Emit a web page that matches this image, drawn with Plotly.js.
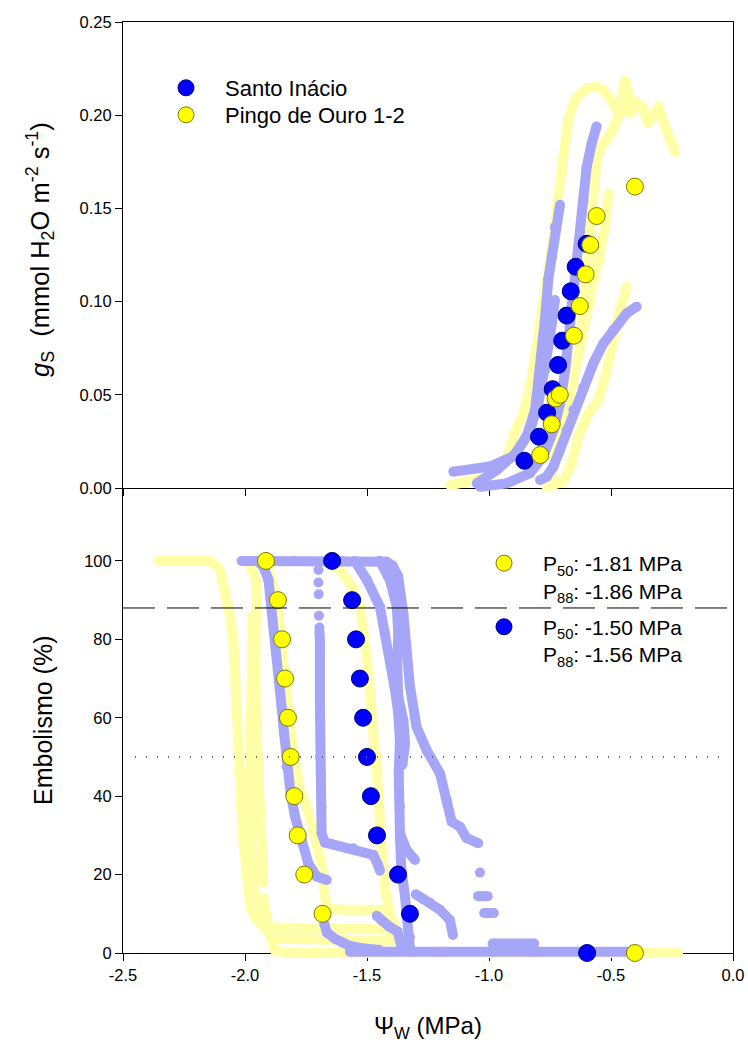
<!DOCTYPE html>
<html>
<head>
<meta charset="utf-8">
<script src="https://cdn.plot.ly/plotly-3.0.1.min.js"></script>
<style>html,body{margin:0;padding:0;background:#fff;}#chart{width:748px;height:1046px;}</style>
</head>
<body>
<div id="chart"></div>
<script>
// ---------------- DATA ----------------
// Axis ticks
const xTickVals = [-2.5, -2.0, -1.5, -1.0, -0.5, 0.0];
const xTickText = ['-2.5', '-2.0', '-1.5', '-1.0', '-0.5', '0.0'];
const gsTickVals = [0, 0.05, 0.10, 0.15, 0.20, 0.25];
const gsTickText = ['0.00', '0.05', '0.10', '0.15', '0.20', '0.25'];
const embTickVals = [0, 20, 40, 60, 80, 100];
const refLevels = [88, 50];   // P88 and P50 reference lines (%)

// Top panel: stomatal conductance (gs) mean points
const gsSanto_x = [-0.855, -0.795, -0.762, -0.739, -0.717, -0.700, -0.682, -0.665, -0.645, -0.600];
const gsSanto_y = [0.0146, 0.0275, 0.0404, 0.0530, 0.0660, 0.0790, 0.0925, 0.1055, 0.1187, 0.1310];
const gsPingo_x = [-0.790, -0.743, -0.727, -0.710, -0.652, -0.628, -0.604, -0.585, -0.559, -0.402];
const gsPingo_y = [0.0177, 0.0342, 0.0480, 0.0500, 0.0817, 0.0976, 0.1146, 0.1304, 0.1459, 0.1617];

// Top panel: individual gs curves (Pingo de Ouro, light yellow)
const gsY1_x = [-1.160, -1.064, -0.980, -0.930, -0.893, -0.859, -0.830, -0.805, -0.777, -0.753, -0.738, -0.722, -0.700, -0.675, -0.645, -0.600, -0.559, -0.532, -0.504, -0.470];
const gsY1_y = [0.0016, 0.0039, 0.0080, 0.0150, 0.0300, 0.0400, 0.0550, 0.0750, 0.0990, 0.1170, 0.1330, 0.1500, 0.1760, 0.1980, 0.2090, 0.2144, 0.2153, 0.2135, 0.2090, 0.2010];
const gsY2_x = [-0.764, -0.695, -0.661, -0.634, -0.593, -0.552, -0.518, -0.490, -0.463, -0.436];
const gsY2_y = [0.0007, 0.0034, 0.0132, 0.0275, 0.0400, 0.0472, 0.0630, 0.0810, 0.0955, 0.1080];
const gsY3_x = [-0.743, -0.730, -0.709, -0.684, -0.661, -0.641, -0.613, -0.586, -0.570, -0.545, -0.525, -0.511];
const gsY3_y = [0.0060, 0.0168, 0.0275, 0.0400, 0.0540, 0.0670, 0.0810, 0.0990, 0.1116, 0.1220, 0.1400, 0.1580];
const gsY4_x = [-0.620, -0.605, -0.590, -0.579, -0.559, -0.538, -0.511, -0.484, -0.463, -0.452, -0.443, -0.429, -0.422, -0.395, -0.374, -0.347, -0.306, -0.279, -0.258, -0.238];
const gsY4_y = [0.0850, 0.1100, 0.1290, 0.1540, 0.1760, 0.1840, 0.1880, 0.1950, 0.2010, 0.2117, 0.2185, 0.2117, 0.2010, 0.2067, 0.2046, 0.1956, 0.2046, 0.1940, 0.1870, 0.1804];

// Top panel: individual gs curves (Santo Inácio, light blue)
const gsL1_x = [-1.037, -0.928, -0.832, -0.777, -0.736, -0.709, -0.688, -0.675, -0.661, -0.648, -0.627, -0.613, -0.600, -0.579, -0.559];
const gsL1_y = [0.0007, 0.0025, 0.0080, 0.0170, 0.0310, 0.0450, 0.0630, 0.0810, 0.0990, 0.1160, 0.1380, 0.1540, 0.1720, 0.1850, 0.1940];
const gsL2_x = [-1.146, -0.996, -0.900, -0.846, -0.811, -0.791, -0.771, -0.757, -0.743, -0.730, -0.709];
const gsL2_y = [0.0088, 0.0115, 0.0170, 0.0275, 0.0420, 0.0630, 0.0900, 0.1120, 0.1240, 0.1400, 0.1520];
const gsL3_x = [-1.050, -0.968, -0.887, -0.832, -0.798, -0.771, -0.750, -0.730];
const gsL3_y = [0.0025, 0.0097, 0.0190, 0.0310, 0.0450, 0.0630, 0.0810, 0.1008];
const gsL4_x = [-0.791, -0.764, -0.736, -0.709, -0.682, -0.654, -0.613, -0.572, -0.531, -0.490, -0.436, -0.395];
const gsL4_y = [0.0043, 0.0060, 0.0115, 0.0204, 0.0310, 0.0420, 0.0540, 0.0670, 0.0776, 0.0850, 0.0937, 0.0973];

// Bottom panel: embolism mean points
const embPingo_x = [-1.914, -1.865, -1.848, -1.836, -1.824, -1.813, -1.798, -1.784, -1.757, -1.682, -0.402];
const embPingo_y = [100, 90, 80, 70, 60, 50, 40, 30, 20, 10, 0];
const embSanto_x = [-1.643, -1.561, -1.545, -1.529, -1.516, -1.500, -1.484, -1.459, -1.373, -1.324, -0.598];
const embSanto_y = [100, 90, 80, 70, 60, 50, 40, 30, 20, 10, 0];

// Bottom panel: individual embolism curves (Pingo de Ouro, light yellow)
const embY1_x = [-2.355, -2.143, -2.102, -2.082, -2.061, -2.048, -2.041, -2.034, -2.030, -2.027, -2.020, -2.007, -1.993, -1.979, -1.952, -1.884, -1.700, -1.500, -1.420, -1.385];
const embY1_y = [100, 100, 97.7, 92.6, 85.8, 79.8, 71.3, 62.8, 54.3, 45.8, 37.3, 28.8, 20.3, 11.8, 8.4, 6.5, 6.3, 6.2, 6.0, 5.0];
const embY2_x = [-1.975, -1.955, -1.955, -1.958, -1.958, -1.955, -1.950, -1.945, -1.935, -1.925];
const embY2_y = [98.5, 95, 88, 80, 70, 60, 50, 40, 30, 18];
const embY3_x = [-1.968, -1.972, -1.976, -1.980, -1.978, -1.972, -1.960, -1.935, -1.884, -1.800, -1.600, -1.400, -1.360];
const embY3_y = [86, 75, 60, 45, 30, 20, 12, 7.5, 3.8, 3.6, 3.6, 3.5, 3.0];
const embY4_x = [-1.925, -1.915, -1.895, -1.875, -1.800, -1.500, -1.000, -0.600, -0.225];
const embY4_y = [14, 9, 4, 0.5, 0, 0, 0, 0, 0];
const embY5_x = [-1.930, -1.900, -1.880, -1.860, -1.845, -1.830, -1.810, -1.790, -1.775, -1.747, -1.720, -1.690, -1.675, -1.665, -1.600, -1.500, -1.430, -1.410];
const embY5_y = [99, 97, 92, 85, 75, 65, 55, 47, 41.6, 37.3, 31, 24, 16, 11.5, 11, 11, 11, 10];
const embY6_x = [-1.624, -1.611, -1.557, -1.529, -1.501, -1.481, -1.460, -1.454, -1.447, -1.440, -1.426, -1.406, -1.385, -1.365, -1.337];
const embY6_y = [98.1, 97.7, 93, 88.4, 75.6, 62.8, 50.1, 41.6, 33.1, 24.6, 16.1, 10.1, 6.7, 3.3, 0.8];

// Bottom panel: individual embolism curves (Santo Inácio, light blue)
const embLtop_x = [-2.014, -1.800, -1.600, -1.450, -1.420, -1.395, -1.372, -1.351, -1.337, -1.324, -1.297, -1.256, -1.201, -1.174, -1.153, -1.119, -1.092, -1.044];
const embLtop_y = [100, 100, 100, 100, 99.8, 98.8, 96, 86.6, 76.4, 68, 57.7, 51.8, 45.8, 39, 33.5, 32.2, 29.3, 28];
const embLdots_x = [-1.037, null, -1.045, -1.005, null, -1.020, -0.980];
const embLdots_y = [20.5, null, 14.5, 14.5, null, 10.2, 10.2];
const embL1_x = [-1.950, -1.925, -1.904, -1.891, -1.877, -1.863, -1.850, -1.840, -1.829, -1.813, -1.795, -1.768, -1.741, -1.706, -1.665];
const embL1_y = [100, 98.6, 95.2, 88.4, 79.9, 71.4, 62.8, 56.1, 47.5, 40.7, 34.8, 28.8, 22.9, 19.5, 18.6];
const embL2a_x = [-1.699, -1.699, -1.698, null, -1.697, -1.695];
const embL2a_y = [97.7, 94.5, 91.5, null, 86, 83];
const embL2_x = [-1.695, -1.693, -1.693, -1.693, -1.690, -1.686, -1.686, -1.672, -1.638, -1.556, -1.474, -1.455, -1.447];
const embL2_y = [82, 80, 62.8, 50, 45.8, 37.3, 30.5, 28.2, 27.6, 26.7, 25.0, 22.5, 21];
const embL3_x = [-1.550, -1.501, -1.447, -1.426, -1.400, -1.385, -1.372, -1.365, -1.370, -1.365, -1.365, -1.338, -1.303];
const embL3_y = [100, 95.2, 88.3, 81.6, 74.8, 67.1, 61.1, 54.3, 45.8, 37.3, 30.5, 26.3, 23.7];
const embL4_x = [-1.447, -1.406, -1.378, -1.372, -1.376, -1.372, -1.351, -1.344, -1.355];
const embL4_y = [100, 95.1, 88.4, 81.6, 73, 65.4, 59.4, 53.5, 48];
const embL5_x = [-1.365, -1.360, -1.344, -1.331, -1.324, -1.324];
const embL5_y = [30, 22, 14.3, 8.4, 4, 1];
const embL6_x = [-1.300, -1.270, -1.242, -1.201, -1.160, -1.148];
const embL6_y = [15, 13.8, 12.8, 11, 8.4, 4.6];
const embL7_x = [-1.460, -1.440, -1.410, -1.375, -1.360];
const embL7_y = [9.5, 8.3, 6.8, 5.5, 2];
const embL8_x = [-1.675, -1.664, -1.630, -1.600, -1.570, -1.520, -1.450];
const embL8_y = [7.5, 5.2, 3.6, 2.6, 1.8, 1.2, 0.8];
const embLbase_x = [-1.570, -1.200, -0.800, -0.393];
const embLbase_y = [0.3, 0.3, 0.3, 0.3];
const embLbump_x = [-0.985, -0.815];
const embLbump_y = [2.4, 2.4];

// ---------------- STYLE / LAYOUT ----------------
const FONT = 'Liberation Sans, Arial, Helvetica, sans-serif';
const LAV = '#a6a6f8';
const LYEL = '#ffffa8';
const W = 748, H = 1046;
const M = {l: 123, r: 15, t: 12, b: 83};
const plotH = H - M.t - M.b, plotW = W - M.l - M.r;
const py = p => (H - M.b - p) / plotH;     // pixel row -> paper y
const px = p => (p - M.l) / plotW;         // pixel col -> paper x

const topDom = [py(488), py(22)];
const botDom = [py(953), py(488)];
const gsRange = [0, 0.25];
const embRange = [0, 118.6];
// hidden data axes with slightly larger domains (so thick bands are not clipped at the axes)
function extRange(vis, dom, ext) {
  const k = (vis[1] - vis[0]) / (dom[1] - dom[0]);
  return [vis[0] - (dom[0] - ext[0]) * k, vis[1] + (ext[1] - dom[1]) * k];
}
const topExt = [py(500), py(22)];
const botExt = [py(963), py(488)];

function band(x, y, color, top) {
  return {x: x, y: y, xaxis: top ? 'x2' : 'x', yaxis: top ? 'y4' : 'y3',
    mode: 'lines+markers', line: {color: color, width: 10, shape: 'linear'},
    marker: {color: color, size: 10}, showlegend: false, hoverinfo: 'skip'};
}
function beads(x, y, color) {
  return {x: x, y: y, xaxis: 'x', yaxis: 'y3', mode: 'markers',
    marker: {color: color, size: 10}, showlegend: false, hoverinfo: 'skip'};
}
const BLUE = {size: 17, color: '#0000ff', line: {color: '#00007a', width: 1}};
const YEL = {size: 17, color: '#ffff00', line: {color: '#7a7a00', width: 1}};

const traces = [
  // empty traces so that the visible framed subplots are created
  {x: [], y: [], xaxis: 'x', yaxis: 'y', mode: 'markers', showlegend: false, hoverinfo: 'skip'},
  {x: [], y: [], xaxis: 'x2', yaxis: 'y2', mode: 'markers', showlegend: false, hoverinfo: 'skip'},
  band(gsY1_x, gsY1_y, LYEL, true), band(gsY2_x, gsY2_y, LYEL, true),
  band(gsY3_x, gsY3_y, LYEL, true), band(gsY4_x, gsY4_y, LYEL, true),
  band(gsL1_x, gsL1_y, LAV, true), band(gsL2_x, gsL2_y, LAV, true),
  band(gsL3_x, gsL3_y, LAV, true), band(gsL4_x, gsL4_y, LAV, true),
  band(embY1_x, embY1_y, LYEL, false), band(embY2_x, embY2_y, LYEL, false),
  band(embY3_x, embY3_y, LYEL, false), band(embY4_x, embY4_y, LYEL, false),
  band(embY5_x, embY5_y, LYEL, false), band(embY6_x, embY6_y, LYEL, false),
  band(embLtop_x, embLtop_y, LAV, false), band(embLdots_x, embLdots_y, LAV, false),
  band(embL1_x, embL1_y, LAV, false), beads(embL2a_x, embL2a_y, LAV), band(embL2_x, embL2_y, LAV, false),
  band(embL3_x, embL3_y, LAV, false), band(embL4_x, embL4_y, LAV, false),
  band(embL5_x, embL5_y, LAV, false), band(embL6_x, embL6_y, LAV, false),
  band(embL7_x, embL7_y, LAV, false), band(embL8_x, embL8_y, LAV, false),
  band(embLbase_x, embLbase_y, LAV, false), band(embLbump_x, embLbump_y, LAV, false),
  {x: gsSanto_x, y: gsSanto_y, xaxis: 'x2', yaxis: 'y4', mode: 'markers', marker: BLUE,
   name: 'Santo Inácio', legend: 'legend', cliponaxis: false},
  {x: gsPingo_x, y: gsPingo_y, xaxis: 'x2', yaxis: 'y4', mode: 'markers', marker: YEL,
   name: 'Pingo de Ouro 1-2', legend: 'legend3', cliponaxis: false},
  {x: embPingo_x, y: embPingo_y, xaxis: 'x', yaxis: 'y3', mode: 'markers', marker: YEL,
   name: 'P<sub>50</sub>: -1.81 MPa<br>P<sub>88</sub>: -1.86 MPa', legend: 'legend2', legendrank: 1, legendgroup: 'c', cliponaxis: false},
  {x: embSanto_x, y: embSanto_y, xaxis: 'x', yaxis: 'y3', mode: 'markers', marker: BLUE,
   name: 'P<sub>50</sub>: -1.50 MPa<br>P<sub>88</sub>: -1.56 MPa', legend: 'legend2', legendrank: 2, legendgroup: 'd', cliponaxis: false}
];

const tickFont = {family: FONT, size: 16.5, color: '#000'};
const axBase = {showgrid: false, zeroline: false, showline: true, linecolor: '#000', linewidth: 1,
  ticks: 'outside', ticklen: 7, tickwidth: 1, tickcolor: '#000', tickfont: tickFont, fixedrange: true};
const legFont = {family: FONT, size: 22, color: '#000'};

const layout = {
  width: W, height: H, margin: M,
  paper_bgcolor: '#fff', plot_bgcolor: 'rgba(0,0,0,0)',
  font: {family: FONT, color: '#000'},
  xaxis: Object.assign({}, axBase, {domain: [0, 1], anchor: 'y', range: [-2.5, 0],
    tickmode: 'array', tickvals: xTickVals, ticktext: xTickText}),
  yaxis: Object.assign({}, axBase, {domain: botDom, anchor: 'x', range: embRange, mirror: true,
    tickmode: 'array', tickvals: embTickVals, ticktext: embTickVals.map(String)}),
  xaxis2: Object.assign({}, axBase, {domain: [0, 1], anchor: 'y2', range: [-2.5, 0], mirror: true,
    tickmode: 'array', tickvals: xTickVals, ticktext: xTickText, showticklabels: false}),
  yaxis2: Object.assign({}, axBase, {domain: topDom, anchor: 'x2', range: gsRange, mirror: true,
    tickmode: 'array', tickvals: gsTickVals, ticktext: gsTickText}),
  yaxis3: {domain: botExt, anchor: 'x', range: extRange(embRange, botDom, botExt), visible: false, fixedrange: true},
  yaxis4: {domain: topExt, anchor: 'x2', range: extRange(gsRange, topDom, topExt), visible: false, fixedrange: true},
  showlegend: true,
  legend: {x: px(147), y: py(67), xanchor: 'left', yanchor: 'top', bgcolor: 'rgba(0,0,0,0)', itemwidth: 68,
    font: legFont, valign: 'middle'},
  legend3: {x: px(147), y: py(94), xanchor: 'left', yanchor: 'top', bgcolor: 'rgba(0,0,0,0)', itemwidth: 68,
    font: legFont, valign: 'middle'},
  legend2: {x: px(465), y: py(543), xanchor: 'left', yanchor: 'top', bgcolor: 'rgba(0,0,0,0)', itemwidth: 68,
    font: {family: FONT, size: 21, color: '#000'}, traceorder: 'grouped', tracegroupgap: 6, valign: 'top'},
  shapes: [
    {type: 'line', xref: 'x', yref: 'y', x0: -2.5, x1: 0, y0: refLevels[0], y1: refLevels[0],
     line: {color: '#000', width: 1, dash: '32px,12px'}},
    {type: 'line', xref: 'x', yref: 'y', x0: -2.451, x1: -0.041, y0: refLevels[1], y1: refLevels[1],
     line: {color: '#666', width: 2, dash: '1px,10px'}}
  ],
  annotations: [
    {xref: 'paper', yref: 'paper', x: px(40), y: py(250), showarrow: false, textangle: -90,
     xanchor: 'center', yanchor: 'middle', font: {family: FONT, size: 25.5, color: '#000'},
     text: '<i>g</i><sub>S</sub>&nbsp;&nbsp;(mmol H<sub>2</sub>O m<sup>-2</sup> s<sup>-1</sup>)'},
    {xref: 'paper', yref: 'paper', x: px(43), y: py(721), showarrow: false, textangle: -90,
     xanchor: 'center', yanchor: 'middle', font: {family: FONT, size: 25, color: '#000'},
     text: 'Embolismo (%)'},
    {xref: 'paper', yref: 'paper', x: px(428), y: py(1027), showarrow: false,
     xanchor: 'center', yanchor: 'middle', font: {family: FONT, size: 24, color: '#000'},
     text: 'Ψ<sub>W</sub> (MPa)'}
  ]
};

Plotly.newPlot('chart', traces, layout, {displayModeBar: false, staticPlot: true});
</script>
</body>
</html>
